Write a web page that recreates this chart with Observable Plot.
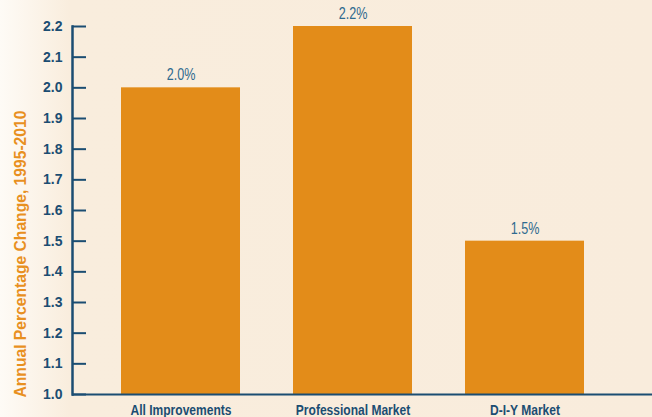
<!DOCTYPE html>
<html>
<head>
<meta charset="utf-8">
<script src="https://cdn.jsdelivr.net/npm/d3@7"></script>
<script src="https://cdn.jsdelivr.net/npm/@observablehq/plot@0.6"></script>
<style>
  html, body { margin: 0; padding: 0; }
  body {
    width: 652px; height: 417px; overflow: hidden;
    background: linear-gradient(to right, #fefbf6 0px, #f9eddd 70px, #f9ecdc 100%);
    font-family: "Liberation Sans", Arial, sans-serif;
  }
  #chart svg { display: block; background: transparent; }
</style>
</head>
<body>
<div id="chart"></div>
<script>
const categories = ["All Improvements", "Professional Market", "D-I-Y Market"];
const values = [2.0, 2.2, 1.5];
const valueLabels = ["2.0%", "2.2%", "1.5%"];
const yTicks = [1.0, 1.1, 1.2, 1.3, 1.4, 1.5, 1.6, 1.7, 1.8, 1.9, 2.0, 2.1, 2.2];
const yTitle = "Annual Percentage Change, 1995-2010";

const data = categories.map((c, i) => ({category: c, value: values[i], label: valueLabels[i]}));

const axisColor = "#1b4d72";
const barColor = "#e38c19";

const chart = Plot.plot({
  width: 652,
  height: 417,
  marginLeft: 72,
  marginRight: 0,
  marginTop: 26,
  marginBottom: 23,
  style: {background: "transparent", fontFamily: "\"Liberation Sans\", Arial, sans-serif"},
  x: {domain: categories, paddingInner: 0.308, paddingOuter: 0.34, align: 0.42},
  y: {domain: [1.0, 2.2]},
  marks: [
    Plot.rectY(data, {x: "category", y1: 1.0, y2: "value", fill: barColor}),
    Plot.text(data, {x: "category", y: "value", text: "label", dy: -13, fill: "#2f6a8f", fontSize: 17, className: "vlabel"}),
    Plot.axisY({
      ticks: yTicks, tickFormat: d3.format(".1f"), tickSize: -14, tickPadding: 24,
      stroke: axisColor, strokeWidth: 2, fill: axisColor, fontSize: 14, fontWeight: "bold",
      label: null
    }),
    Plot.frame({anchor: "left", stroke: axisColor, strokeWidth: 2.5}),
    Plot.text([yTitle], {
      frameAnchor: "bottom-left", rotate: -90, textAnchor: "start", dx: -47, dy: 3,
      fill: "#e8901f", fontSize: 17, fontWeight: "bold", className: "ytitle"
    }),
    Plot.axisX({tickSize: 0, tickPadding: 11, fill: axisColor, fontSize: 14, fontWeight: "bold", label: null, className: "xlabels"}),
    Plot.ruleY([1.0], {stroke: axisColor, strokeWidth: 2})
  ]
});
document.getElementById("chart").appendChild(chart);

// condense the text horizontally to mimic a condensed typeface
function condense(selector, k) {
  chart.querySelectorAll(selector).forEach(t => {
    const len = t.getComputedTextLength();
    if (len > 0) {
      t.setAttribute("textLength", (len * k).toFixed(1));
      t.setAttribute("lengthAdjust", "spacingAndGlyphs");
    }
  });
}
condense(".xlabels text, g.xlabels text", 0.86);
condense(".vlabel text, g.vlabel text", 0.74);
condense(".ytitle text, g.ytitle text", 0.92);
</script>
</body>
</html>
